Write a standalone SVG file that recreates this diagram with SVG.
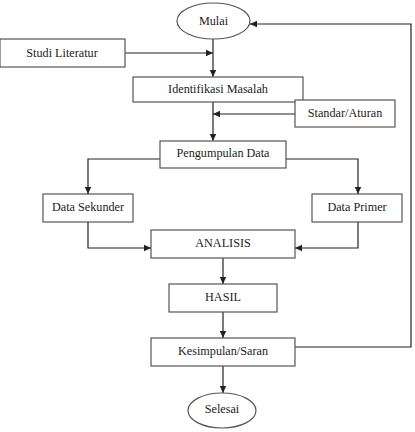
<svg xmlns="http://www.w3.org/2000/svg" width="415" height="432" viewBox="0 0 415 432">
<style>
.box{fill:#fff;stroke:#555;stroke-width:1.2}
text{font-family:'Liberation Serif','Times New Roman',Times,serif;font-size:12.2px;fill:#222;text-anchor:middle}
.c{fill:none;stroke:#222;stroke-width:1.2}
</style>
<defs>
<marker id="ah" markerWidth="8" markerHeight="8" refX="7" refY="4" orient="auto" markerUnits="userSpaceOnUse">
<path d="M0,0.8 L7,4 L0,7.2 Z" fill="#222"/>
</marker>
</defs>
<rect width="415" height="432" fill="#fff"/>
<g id="connectors">
<path class="c" d="M213,39 V77" marker-end="url(#ah)"/>
<path class="c" d="M125,53 H213" marker-end="url(#ah)"/>
<path class="c" d="M213,102 V141" marker-end="url(#ah)"/>
<path class="c" d="M295,114 H213" marker-end="url(#ah)"/>
<path class="c" d="M160,159 H88 V194" marker-end="url(#ah)"/>
<path class="c" d="M286,159 H358 V194" marker-end="url(#ah)"/>
<path class="c" d="M88,222 V248 H151" marker-end="url(#ah)"/>
<path class="c" d="M358,222 V248 H295" marker-end="url(#ah)"/>
<path class="c" d="M223,258 V284" marker-end="url(#ah)"/>
<path class="c" d="M223,312 V338" marker-end="url(#ah)"/>
<path class="c" d="M223,366 V393" marker-end="url(#ah)"/>
<path class="c" d="M295,347 H411 V24 H250" marker-end="url(#ah)"/>
</g>
<g id="mulai"><ellipse class="box" cx="213.5" cy="21" rx="36.5" ry="18"/><text x="213.5" y="25">Mulai</text></g>
<g id="studi"><rect class="box" x="0" y="39" width="125" height="28"/><text x="62" y="57">Studi Literatur</text></g>
<g id="identifikasi"><rect class="box" x="133" y="77" width="170" height="25"/><text x="218" y="93">Identifikasi Masalah</text></g>
<g id="standar"><rect class="box" x="295" y="100" width="100" height="27"/><text x="345" y="117">Standar/Aturan</text></g>
<g id="pengumpulan"><rect class="box" x="160" y="141" width="126" height="27"/><text x="223" y="157">Pengumpulan Data</text></g>
<g id="sekunder"><rect class="box" x="43" y="194" width="90" height="28"/><text x="88" y="211">Data Sekunder</text></g>
<g id="primer"><rect class="box" x="312" y="194" width="90" height="28"/><text x="357" y="211">Data Primer</text></g>
<g id="analisis"><rect class="box" x="151" y="230" width="144" height="28"/><text x="223" y="247">ANALISIS</text></g>
<g id="hasil"><rect class="box" x="169" y="284" width="108" height="28"/><text x="223" y="301">HASIL</text></g>
<g id="kesimpulan"><rect class="box" x="151" y="338" width="144" height="28"/><text x="223" y="355">Kesimpulan/Saran</text></g>
<g id="selesai"><ellipse class="box" cx="222" cy="410.5" rx="34" ry="17.5"/><text x="222" y="413">Selesai</text></g>
</svg>
